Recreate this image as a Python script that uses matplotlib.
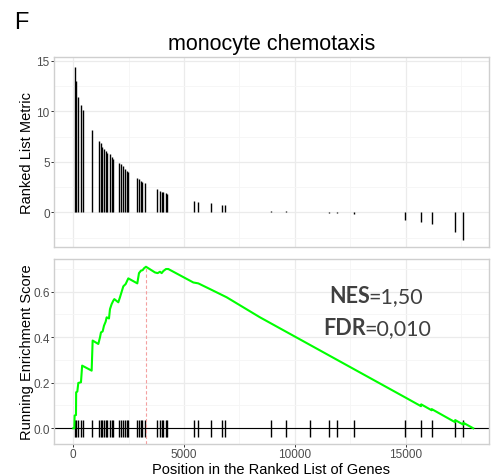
import matplotlib
matplotlib.use("Agg")
import matplotlib.pyplot as plt
from matplotlib.ticker import MultipleLocator

plt.rcParams["font.family"] = ["Liberation Sans", "DejaVu Sans"]

# genes of the set: position in ranked list and ranked list metric
gene_pos = [65, 125, 227, 334, 420, 857, 1160, 1236, 1309, 1385, 1462, 1534,
            1655, 1733, 1805, 2076, 2153, 2229, 2347, 2423, 2482, 2888, 2965,
            3041, 3114, 3236, 3791, 3912, 3989, 4061, 4170, 4242, 5460, 5614,
            6214, 6697, 6846, 8921, 9598, 10681, 11552, 11913, 12653, 14969,
            15691, 16173, 17225, 17599]
gene_metric = [14.4, 13.0, 11.4, 10.6, 10.1, 8.15, 7.05, 6.85, 6.5, 6.3, 6.1,
               5.9, 5.75, 5.45, 5.3, 4.9, 4.8, 4.6, 4.25, 4.1, 4.0, 3.4, 3.3,
               3.1, 2.95, 2.85, 2.3, 2.1, 2.05, 2.0, 1.95, 1.85, 1.15, 1.05,
               0.9, 0.75, 0.72, 0.15, 0.08, 0.03, -0.08, -0.12, -0.2, -0.75,
               -1.0, -1.2, -2.0, -2.75]

# running enrichment score, vertices
es_x = [0, 47, 60, 122, 130, 182, 227, 347, 400, 829, 874, 1130, 1205, 1250,
        1325, 1385, 1461, 1506, 1611, 1656, 1731, 1806, 1852, 2032, 2107,
        2198, 2258, 2363, 2483, 2889, 2965, 3055, 3130, 3190, 3281, 3687,
        3807, 3912, 3988, 4063, 4183, 4288, 5417, 5642, 6169, 6921, 8425,
        14969, 15691, 15700, 16173, 16180, 17225, 17235, 17599, 17605, 18050]
es_y = [0.0, 0.0, 0.056, 0.058, 0.158, 0.161, 0.199, 0.202, 0.275, 0.253,
        0.385, 0.370, 0.399, 0.421, 0.425, 0.450, 0.468, 0.487, 0.482, 0.523,
        0.545, 0.560, 0.567, 0.553, 0.575, 0.604, 0.623, 0.633, 0.658, 0.636,
        0.681, 0.692, 0.694, 0.702, 0.709, 0.684, 0.681, 0.687, 0.681, 0.690,
        0.699, 0.699, 0.640, 0.636, 0.611, 0.575, 0.487, 0.136, 0.097, 0.105,
        0.079, 0.084, 0.027, 0.036, 0.016, 0.024, 0.0]

peak_x = 3281
peak_es = 0.709

title = "monocyte chemotaxis"
nes_label = ("NES", "=1,50")
fdr_label = ("FDR", "=0,010")

W, H = 491, 477
fig = plt.figure(figsize=(W / 100, H / 100), dpi=100)


def px(x, y):
    return x / W, 1 - y / H


ax1 = fig.add_axes([54 / W, 1 - 248 / H, 435 / W, 190 / H])
ax2 = fig.add_axes([54 / W, 1 - 445 / H, 435 / W, 185 / H])

for ax in (ax1, ax2):
    ax.set_xlim(-870, 18760)
    ax.xaxis.set_major_locator(MultipleLocator(5000))
    ax.xaxis.set_minor_locator(MultipleLocator(2500))
    ax.grid(which="major", color="#ebebeb", lw=0.9)
    ax.grid(which="minor", color="#f5f5f5", lw=0.6)
    ax.set_axisbelow(True)
    for s in ax.spines.values():
        s.set_color("#cfcfcf")
        s.set_linewidth(1.0)
    ax.tick_params(which="major", length=2.5, width=0.7, color="#333333",
                   labelsize=8.5, labelcolor="#4d4d4d", pad=0.6)
    ax.tick_params(which="minor", length=0)

# top: ranked list metric
ax1.vlines(gene_pos, 0, gene_metric, color="black", lw=1.0)
ax1.set_ylim(-3.44, 15.38)
ax1.yaxis.set_major_locator(MultipleLocator(5))
ax1.yaxis.set_minor_locator(MultipleLocator(2.5))
ax1.tick_params(axis="x", which="both", length=0, labelbottom=False)
ax1.set_ylabel("Ranked List Metric", fontsize=10.5, va="center")
ax1.yaxis.set_label_coords(-0.063, 0.5)

# bottom: running enrichment score
ax2.set_ylim(-0.069, 0.743)
ax2.yaxis.set_major_locator(MultipleLocator(0.2))
ax2.yaxis.set_minor_locator(MultipleLocator(0.1))
ax2.axhline(0, color="black", lw=0.8, zorder=2)
ax2.vlines(gene_pos, -0.04, 0.035, color="black", lw=1.0, zorder=3)
ax2.vlines(peak_x, -0.069, peak_es, color="#f4a0a0", lw=0.8,
           linestyles=(0, (3, 2)), zorder=3)
ax2.plot(es_x, es_y, color="#00ff00", lw=1.5, zorder=4)
ax2.set_ylabel("Running Enrichment Score", fontsize=10.5, va="center")
ax2.yaxis.set_label_coords(-0.063, 0.5)
ax2.set_xlabel("Position in the Ranked List of Genes", fontsize=10.5,
               va="top")
ax2.xaxis.set_label_coords(0.5, -0.095)

fig.text(*px(271.5, 50), title, fontsize=15.5, ha="center", va="baseline")
fig.text(*px(14, 29), "F", fontsize=17, ha="left", va="baseline")

txt = dict(fontsize=15.5, color="#404040", va="baseline", family="Lato")
fig.text(*px(370, 303), nes_label[0], ha="right", weight="bold", **txt)
fig.text(*px(368, 303), nes_label[1], ha="left", **txt)
fig.text(*px(366, 335), fdr_label[0], ha="right", weight="bold", **txt)
fig.text(*px(364, 335), fdr_label[1], ha="left", **txt)

fig.savefig("out.png", dpi=100)
